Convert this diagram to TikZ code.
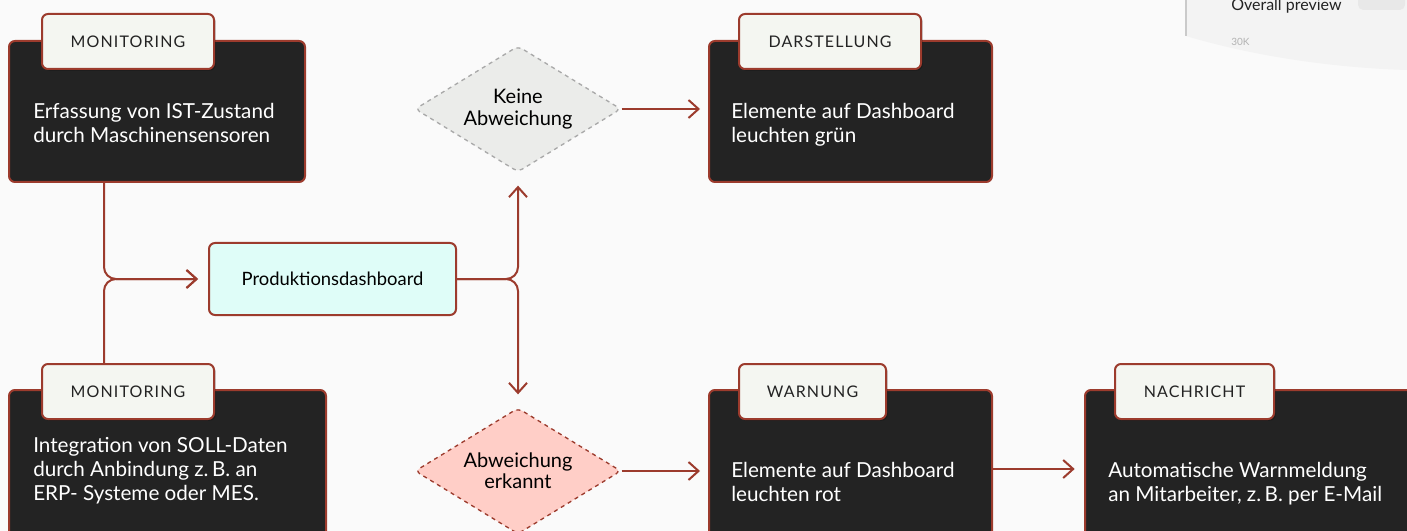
\documentclass[tikz,border=0pt]{standalone}
\usepackage{fontspec}
\setmainfont{Lato}
\usetikzlibrary{arrows.meta,shapes.geometric,shadows}

\definecolor{rust}{HTML}{9C3B2D}
\definecolor{ink}{HTML}{232323}
\definecolor{paper}{HTML}{FAFAFA}
\definecolor{tagfill}{HTML}{F4F6F1}
\definecolor{mint}{HTML}{DFFDF8}
\definecolor{fog}{HTML}{EBECEA}
\definecolor{fogline}{HTML}{A9A9A9}
\definecolor{blush}{HTML}{FFCEC7}
\definecolor{panel}{HTML}{F3F3F3}
\definecolor{panelline}{HTML}{CACACA}
\definecolor{pill}{HTML}{E8E8E8}

\tikzset{
  card/.style={draw=rust, fill=ink, line width=1.5pt, rounded corners=4.5pt,
    inner sep=0pt, anchor=north west},
  tagbox/.style={draw=rust, fill=tagfill, line width=1.5pt, rounded corners=4.5pt,
    anchor=north west, minimum height=41.25pt, text=ink,
    font=\fontsize{12}{14}\selectfont\addfontfeatures{LetterSpace=7},
    drop shadow={shadow xshift=1.2pt, shadow yshift=-1.2pt, opacity=0.25, fill=black}},
  cardtext/.style={anchor=base west, align=left, text=white, inner sep=0pt,
    font=\fontsize{15.5}{18}\selectfont},
  choice/.style={diamond, aspect=1.635, minimum width=154.5pt, minimum height=94.5pt,
    inner sep=0pt, rounded corners=4pt, dashed, line width=1pt, align=center,
    font=\fontsize{15}{16}\selectfont},
  flow/.style={draw=rust, line width=1.5pt,
    -{Straight Barb[length=7.5pt, width=13.5pt, line width=1.5pt]}},
}

\begin{document}
\begin{tikzpicture}[x=0.75pt, y=-0.75pt]

  %% Page and background.
  \useasboundingbox (0,0) rectangle (1407,531);
  \clip (0,0) rectangle (1407,531);
  \fill[paper] (0,0) rectangle (1407,531);


  %% Corner of the preview panel:
  \fill[panel] (1186,0) -- (1186,36) .. controls (1260,58) and (1340,68) .. (1407,70)
  -- (1407,0) -- cycle;
  \draw[panelline, line width=1.5pt] (1186,0) -- (1186,36);
  \node[anchor=base west, inner sep=0pt, text=ink, font=\fontsize{12}{14}\selectfont]
  (preview) at (1231,11) {Overall preview};
  \fill[pill, rounded corners=4pt] (1358,-6) rectangle (1405,10);
  \node[anchor=west, inner sep=0pt, text=black!30, font=\fontsize{7.5}{9}\selectfont]
  (preview-k) at (1231,42) {30K};


  %% Monitoring cards (left column):
  \node[card, minimum width=222pt, minimum height=105.75pt] (ist) at (8,40) {};
  \node[tagbox, minimum width=129pt] (ist-tag) at (41,13) {MONITORING};
  \node[cardtext] (ist-txt) at (33,143)
  {Erfassung von IST-Zustand\\durch Maschinensensoren};

  \node[card, minimum width=237.75pt, minimum height=118.5pt] (soll) at (8,389) {};
  \node[tagbox, minimum width=129pt] (soll-tag) at (41,363) {MONITORING};
  \node[cardtext] (soll-txt) at (33,500)
  {Integration von SOLL-Daten\\durch Anbindung z.\,B. an\\ERP- Systeme oder MES.};


  %% Dashboard and the two cases:
  \node[draw=rust, fill=mint, line width=1.5pt, rounded corners=4.5pt,
  minimum width=185.25pt, minimum height=54pt, font=\fontsize{13.8}{16}\selectfont]
  (dash) at (332.5,279) {Produktionsdashboard};

  \node[choice, draw=fogline, fill=fog] (keine) at (518,109) {Keine\\Abweichung};
  \node[choice, draw=rust, fill=blush] (erkannt) at (518,471) {Abweichung\\erkannt};


  %% Result cards (right):
  \node[card, minimum width=212.25pt, minimum height=105.75pt] (darst) at (708,40) {};
  \node[tagbox, minimum width=136.5pt] (darst-tag) at (738,13) {DARSTELLUNG};
  \node[cardtext] (darst-txt) at (731,143) {Elemente auf Dashboard\\leuchten grün};

  \node[card, minimum width=212.25pt, minimum height=118.5pt] (warn) at (708,389) {};
  \node[tagbox, minimum width=110.25pt] (warn-tag) at (738,363) {WARNUNG};
  \node[cardtext] (warn-txt) at (731,501) {Elemente auf Dashboard\\leuchten rot};

  \node[card, minimum width=255pt, minimum height=118.5pt] (msg) at (1084,389) {};
  \node[tagbox, minimum width=119.25pt] (msg-tag) at (1114,363) {NACHRICHT};
  \node[cardtext] (msg-txt) at (1108,501)
  {Automatische Warnmeldung\\an Mitarbeiter, z.\,B. per E-Mail};


  %% Connectors:
  \coordinate (merge) at (104,279);
  \draw[flow, rounded corners=9pt, shorten >=7.5pt] (ist.south -| merge) |- (dash.west);
  \draw[flow, rounded corners=9pt, shorten >=7.5pt] (soll-tag.north -| merge) |- (dash.west);
  \draw[flow, rounded corners=9pt, shorten >=9.75pt] (dash.east) -| (keine.south);
  \draw[flow, rounded corners=9pt, shorten >=9.75pt] (dash.east) -| (erkannt.north);
  \draw[flow, shorten >=6pt] (keine.east) -- (keine.east -| darst.west);
  \draw[flow, shorten >=6pt] (erkannt.east) -- (erkannt.east -| warn.west);
  \draw[flow, shorten >=7pt] (warn.east) -- (msg.west);

\end{tikzpicture}
\end{document}
